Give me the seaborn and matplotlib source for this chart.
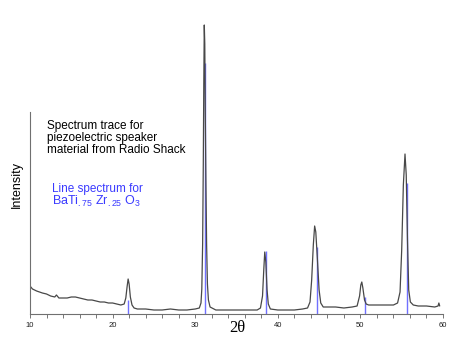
import matplotlib
matplotlib.use("Agg")
import matplotlib.pyplot as plt
import seaborn as sns
import numpy as np
import pandas as pd
from matplotlib.ticker import MultipleLocator

# ---- data ----
two_theta = [10.0, 10.3, 10.8, 11.5, 12.0, 12.5, 13.0, 13.2, 13.5, 14.0, 14.5, 15.0, 15.5,
             16.0, 16.5, 17.0, 17.5, 18.0, 18.5, 19.0, 19.5, 20.0, 20.5, 21.0, 21.4, 21.6,
             21.75, 21.88, 22.0, 22.15, 22.35, 22.6, 23.0, 24.0, 25.0, 26.0, 27.0, 28.0,
             29.0, 30.0, 30.5, 30.7, 30.8, 30.9, 30.98, 31.04, 31.1, 31.16, 31.22, 31.3,
             31.38, 31.48, 31.6, 31.8, 32.5, 33.5, 34.5, 35.5, 36.5, 37.5, 37.9, 38.15, 38.3,
             38.42, 38.55, 38.7, 38.85, 39.1, 40.0, 41.0, 42.0, 43.0, 43.6, 43.9, 44.1, 44.3,
             44.46, 44.6, 44.8, 45.0, 45.2, 45.5, 46.0, 47.0, 48.0, 49.0, 49.6, 49.9, 50.05,
             50.17, 50.3, 50.5, 50.7, 51.0, 52.0, 53.0, 54.0, 54.5, 54.8, 55.0, 55.2, 55.4,
             55.55, 55.7, 55.85, 56.05, 56.4, 57.0, 58.0, 59.0, 59.4, 59.5, 59.6]
intensity = [280, 250, 230, 210, 200, 180, 170, 190, 160, 160, 160, 170, 170,
             160, 150, 140, 140, 130, 120, 120, 110, 110, 100, 90, 100, 160,
             270, 350, 300, 170, 90, 60, 50, 50, 40, 40, 50, 40,
             40, 50, 60, 110, 250, 700, 1500, 2300, 2890, 2700, 2000, 1300,
             700, 300, 140, 70, 40, 40, 40, 40, 40, 40, 60, 180, 440,
             620, 520, 240, 100, 50, 40, 40, 40, 50, 60, 120, 340, 690,
             880, 820, 540, 240, 110, 70, 70, 70, 60, 70, 80, 180, 290,
             320, 260, 140, 100, 90, 90, 90, 90, 110, 220, 640, 1290, 1600,
             1390, 740, 240, 120, 90, 80, 80, 70, 80, 110, 80]

line_pos = [21.9, 31.2, 38.55, 44.75, 50.5, 55.65]
line_height = [140, 2510, 630, 670, 170, 1310]

x_ticks = [10, 20, 30, 40, 50, 60]

df = pd.DataFrame({"two_theta": two_theta, "intensity": intensity})

sns.set_theme(style="white")
plt.rcParams["font.family"] = ["Liberation Sans", "DejaVu Sans"]
plt.rcParams["mathtext.fontset"] = "custom"
plt.rcParams["mathtext.rm"] = "Liberation Sans"
plt.rcParams["mathtext.it"] = "Liberation Sans"
plt.rcParams["mathtext.default"] = "regular"

W, H = 462, 340
fig = plt.figure(figsize=(W / 100, H / 100), dpi=100)
fig.patch.set_facecolor("white")
ax = fig.add_axes([30 / W, 26 / H, 413 / W, 294 / H])
ax.set_facecolor("white")

ax.vlines(line_pos, 0, line_height, color="#7070ff", lw=1.0, zorder=1)
sns.lineplot(data=df, x="two_theta", y="intensity", color="#484848", lw=0.9,
             ax=ax, zorder=2, sort=False)

ax.set_xlim(10, 60)
ax.set_ylim(0, 2940)
ax.set_xlabel("")
ax.set_ylabel("")
ax.set_yticks([])
ax.set_xticks(x_ticks)
ax.set_xticklabels([str(t) for t in x_ticks])
ax.xaxis.set_minor_locator(MultipleLocator(2))
ax.tick_params(axis="x", which="both", direction="out", length=3, width=0.6,
               color="#606060", bottom=True, labelsize=5.5, pad=2.5, labelcolor="#202020")

for s in ["top", "right"]:
    ax.spines[s].set_visible(False)
ax.spines["left"].set_bounds(0, 2020)
for s in ["left", "bottom"]:
    ax.spines[s].set_color("#707070")
    ax.spines[s].set_linewidth(0.8)

fig.text(47 / W, 1 - 119.5 / H,
         "Spectrum trace for\npiezoelectric speaker\nmaterial from Radio Shack",
         fontsize=8.5, color="black", va="top", ha="left", linespacing=1.02)
fig.text(52 / W, 1 - 183 / H, "Line spectrum for", fontsize=8.5, color="#3a3aff",
         va="top", ha="left")
fig.text(52 / W, 1 - 194 / H, r"BaTi$_{.75}$ Zr$_{.25}$ O$_3$", fontsize=9,
         color="#3a3aff", va="top", ha="left")
fig.text(17 / W, 1 - 185 / H, "Intensity", fontsize=9, rotation=90,
         va="center", ha="center", color="black")
fig.text(237 / W, 1 - 328 / H, "2θ", fontsize=12, family=["Liberation Serif", "DejaVu Serif"],
         va="center", ha="center", color="black")

fig.savefig("out.png", dpi=100, facecolor="white")
